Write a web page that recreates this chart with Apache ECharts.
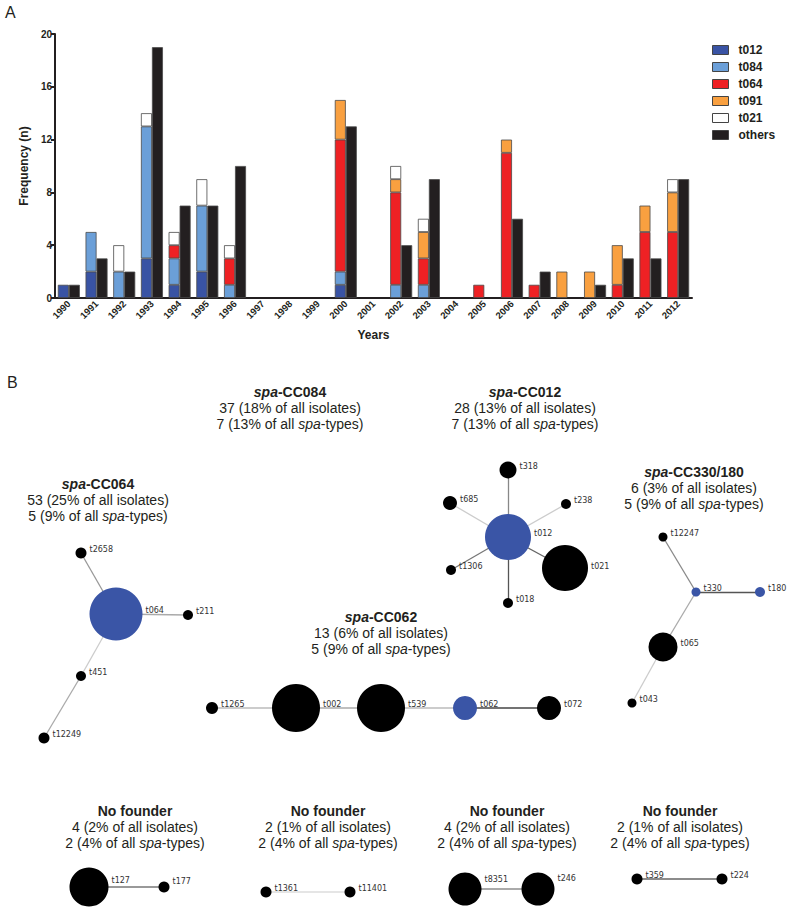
<!DOCTYPE html>
<html><head><meta charset="utf-8">
<script src="https://cdn.jsdelivr.net/npm/echarts@6/dist/echarts.min.js"></script>
<style>html,body{margin:0;padding:0;background:#fff}#c{width:790px;height:910px}</style>
</head><body><div id="c"></div>
<script>
// ---------- Panel A data ----------
const years = ['1990','1991','1992','1993','1994','1995','1996','1997','1998','1999','2000','2001','2002','2003','2004','2005','2006','2007','2008','2009','2010','2011','2012'];
const t012   = [1,2,0,3,1,2,0,0,0,0,1,0,0,0,0,0,0,0,0,0,0,0,0];
const t084   = [0,3,2,10,2,5,1,0,0,0,1,0,1,1,0,0,0,0,0,0,0,0,0];
const t064   = [0,0,0,0,1,0,2,0,0,0,10,0,7,2,0,1,11,1,0,0,1,5,5];
const t091   = [0,0,0,0,0,0,0,0,0,0,3,0,1,2,0,0,1,0,2,2,3,2,3];
const t021   = [0,0,2,1,1,2,1,0,0,0,0,0,1,1,0,0,0,0,0,0,0,0,1];
const others = [1,3,2,19,7,7,10,0,0,0,13,0,4,9,0,0,6,2,0,1,3,3,9];
const yTicks = [0,4,8,12,16,20];

// ---------- Panel B data ----------
const clusterHeads   = ['CC084','CC012','CC064','CC330/180','CC062',null,null,null,null];
const clusterIsol    = [37,28,53,6,13,4,2,4,2];
const clusterIsolPct = [18,13,25,3,6,2,1,2,1];
const clusterTypes   = [7,7,5,5,5,2,2,2,2];
const clusterTypePct = [13,13,9,9,9,4,4,4,4];

const nodeNames = ['t2658','t064','t211','t451','t12249',
  't012','t318','t685','t238','t1306','t018','t021',
  't12247','t330','t180','t065','t043',
  't1265','t002','t539','t062','t072',
  't127','t177','t1361','t11401','t8351','t246','t359','t224'];
const founders = ['t064','t012','t330','t180','t062'];
const edges = [['t064','t2658'],['t064','t211'],['t064','t451'],['t451','t12249'],
  ['t012','t318'],['t012','t685'],['t012','t238'],['t012','t1306'],['t012','t018'],['t012','t021'],
  ['t330','t12247'],['t330','t180'],['t330','t065'],['t065','t043'],
  ['t1265','t002'],['t002','t539'],['t539','t062'],['t062','t072'],
  ['t127','t177'],['t1361','t11401'],['t8351','t246'],['t359','t224']];

// ---------- layout / style (not data) ----------
const nodeLayout = { // x, y in a 790x910 frame, diameter
  t2658:[81,553,11], t064:[116,614,53], t211:[188,615,10], t451:[81,676,10], t12249:[44,738,11],
  t012:[508,537,46], t318:[508,470,17], t685:[450,503,14], t238:[566,504,10], t1306:[451,570,10], t018:[508,603,10], t021:[565,568,46],
  t12247:[663,537,9], t330:[696,592,9], t180:[760,592,10], t065:[663,647,29], t043:[632,703,9],
  t1265:[212,708,12], t002:[296,708,48], t539:[381,708,48], t062:[465,708,24], t072:[549,708,24],
  t127:[89,887,39], t177:[164,887,11], t1361:[266,892,11], t11401:[350,892,11],
  t8351:[465,889,33], t246:[538,889,33], t359:[637,879,11], t224:[722,879,11]
};
const labelDy = {t127:-7, t177:-6, t8351:-10, t246:-11, t021:-2};
const edgeStyle = [['#999',1.3],['#aaa',1.3],['#ccc',1.3],['#aaa',1.3],
  ['#888',1.3],['#ccc',1.3],['#ccc',1.3],['#777',1.3],['#555',1.3],['#666',1.3],
  ['#888',1.3],['#555',1.3],['#aaa',1.3],['#ccc',1.3],
  ['#bbb',1.5],['#aaa',1.5],['#bbb',1.5],['#444',1.5],
  ['#999',2],['#ddd',1.5],['#aaa',2],['#666',1.5]];
const blockPos = [[290,384],[525,384],[98,476],[694,464],[381,609],[135,803],[328,803],[507,803],[680,803]];

const BLUE = '#3a55a6';
const colors = {t012:'#3953a4', t084:'#6b9fd8', t064:'#ee2124', t091:'#f9a040', t021:'#ffffff', others:'#231f20'};
const FONT = '"Liberation Sans", Arial, sans-serif';
const seriesVals = {t012, t084, t064, t091, t021, others};
const z2dash = a => a.map(v => v === 0 ? '-' : v);

const barSeries = ['t012','t084','t064','t091','t021','others'].map(n => ({
  name: n, type: 'bar', xAxisIndex: 0, yAxisIndex: 0,
  stack: n === 'others' ? 'oth' : 'main',
  barWidth: 11, barGap: '0%',
  data: z2dash(seriesVals[n]),
  itemStyle: {color: colors[n], borderColor: '#4a4a4a', borderWidth: 0.8},
  emphasis: {disabled: true}, animation: false
}));

const graphSeries = {
  type: 'graph', coordinateSystem: 'cartesian2d', xAxisIndex: 1, yAxisIndex: 1,
  layout: 'none', silent: true, animation: false, z: 5,
  data: nodeNames.map(n => ({
    name: n, value: [nodeLayout[n][0], nodeLayout[n][1]], symbolSize: nodeLayout[n][2],
    itemStyle: {color: founders.includes(n) ? BLUE : '#000'},
    label: {offset: [0, labelDy[n] !== undefined ? labelDy[n] : -4]}
  })),
  links: edges.map((e, i) => ({source: e[0], target: e[1], lineStyle: {color: edgeStyle[i][0], width: edgeStyle[i][1]}})),
  label: {show: true, position: 'right', distance: 3, fontSize: 8, fontFamily: '"DejaVu Sans", Verdana, sans-serif', color: '#333', formatter: '{b}'},
  lineStyle: {opacity: 1, curveness: 0},
  emphasis: {disabled: true}
};

const rich = {
  h: {fontWeight: 'bold', fontSize: 14, lineHeight: 16, fontFamily: FONT, align: 'center', color: '#231f20'},
  hi: {fontWeight: 'bold', fontStyle: 'italic', fontSize: 14, lineHeight: 16, fontFamily: FONT, align: 'center', color: '#231f20'},
  n: {fontSize: 14, lineHeight: 16, fontFamily: FONT, align: 'center', color: '#231f20'},
  i: {fontStyle: 'italic', fontSize: 14, lineHeight: 16, fontFamily: FONT, align: 'center', color: '#231f20'}
};
const blocks = clusterHeads.map((h, k) => {
  const head = h ? `{hi|spa}{h|-${h}}` : '{h|No founder}';
  const text = head + '\n' +
    `{n|${clusterIsol[k]} (${clusterIsolPct[k]}% of all isolates)}\n` +
    `{n|${clusterTypes[k]} (${clusterTypePct[k]}% of all }{i|spa}{n|-types)}`;
  return {type: 'text', x: blockPos[k][0], y: blockPos[k][1], silent: true,
    style: {text, rich, align: 'center', verticalAlign: 'top', fill: '#231f20', font: '14px ' + FONT}};
});
blocks.push({type: 'text', x: 5, y: 4, style: {text: 'A', font: '16px ' + FONT, fill: '#231f20'}});
blocks.push({type: 'text', x: 7, y: 374, style: {text: 'B', font: '16px ' + FONT, fill: '#231f20'}});

const chart = echarts.init(document.getElementById('c'), null, {renderer: 'svg'});
chart.setOption({
  backgroundColor: '#fff',
  animation: false,
  grid: [
    {left: 55, right: 98, top: 34, bottom: 612, outerBoundsMode: 'none'},
    {left: 0, top: 0, width: 790, height: 910, outerBoundsMode: 'none'}
  ],
  legend: {
    data: ['t012','t084','t064','t091','t021','others'],
    orient: 'vertical', left: 707, top: 39, itemWidth: 16, itemHeight: 9, itemGap: 5,
    icon: 'rect', selectedMode: false,
    itemStyle: {borderColor: '#444', borderWidth: 1},
    textStyle: {fontFamily: FONT, fontWeight: 'bold', fontSize: 12, color: '#231f20', padding: [0,0,0,5]}
  },
  xAxis: [
    {type: 'category', gridIndex: 0, data: years,
     name: 'Years', nameLocation: 'middle', nameGap: 31,
     nameTextStyle: {fontFamily: FONT, fontWeight: 'bold', fontSize: 12, color: '#231f20'},
     axisLine: {show: true, lineStyle: {color: '#231f20', width: 2}},
     axisTick: {show: false},
     axisLabel: {interval: 0, rotate: 45, margin: 4, fontFamily: FONT, fontWeight: 'bold', fontSize: 9.5, color: '#231f20'},
     splitLine: {show: false}},
    {type: 'value', gridIndex: 1, min: 0, max: 790, show: false}
  ],
  yAxis: [
    {type: 'value', gridIndex: 0, min: yTicks[0], max: yTicks[yTicks.length - 1], interval: yTicks[1] - yTicks[0],
     name: 'Frequency (n)', nameLocation: 'middle', nameGap: 18, nameRotate: 90,
     nameTextStyle: {fontFamily: FONT, fontWeight: 'bold', fontSize: 12, color: '#231f20'},
     axisLine: {show: true, lineStyle: {color: '#231f20', width: 2}},
     axisTick: {show: true, length: 4, lineStyle: {color: '#231f20', width: 2}},
     axisLabel: {margin: 3, fontFamily: FONT, fontWeight: 'bold', fontSize: 10, color: '#231f20'},
     splitLine: {show: false}},
    {type: 'value', gridIndex: 1, min: 0, max: 910, inverse: true, show: false}
  ],
  series: [...barSeries, graphSeries],
  graphic: blocks
});
</script></body></html>
